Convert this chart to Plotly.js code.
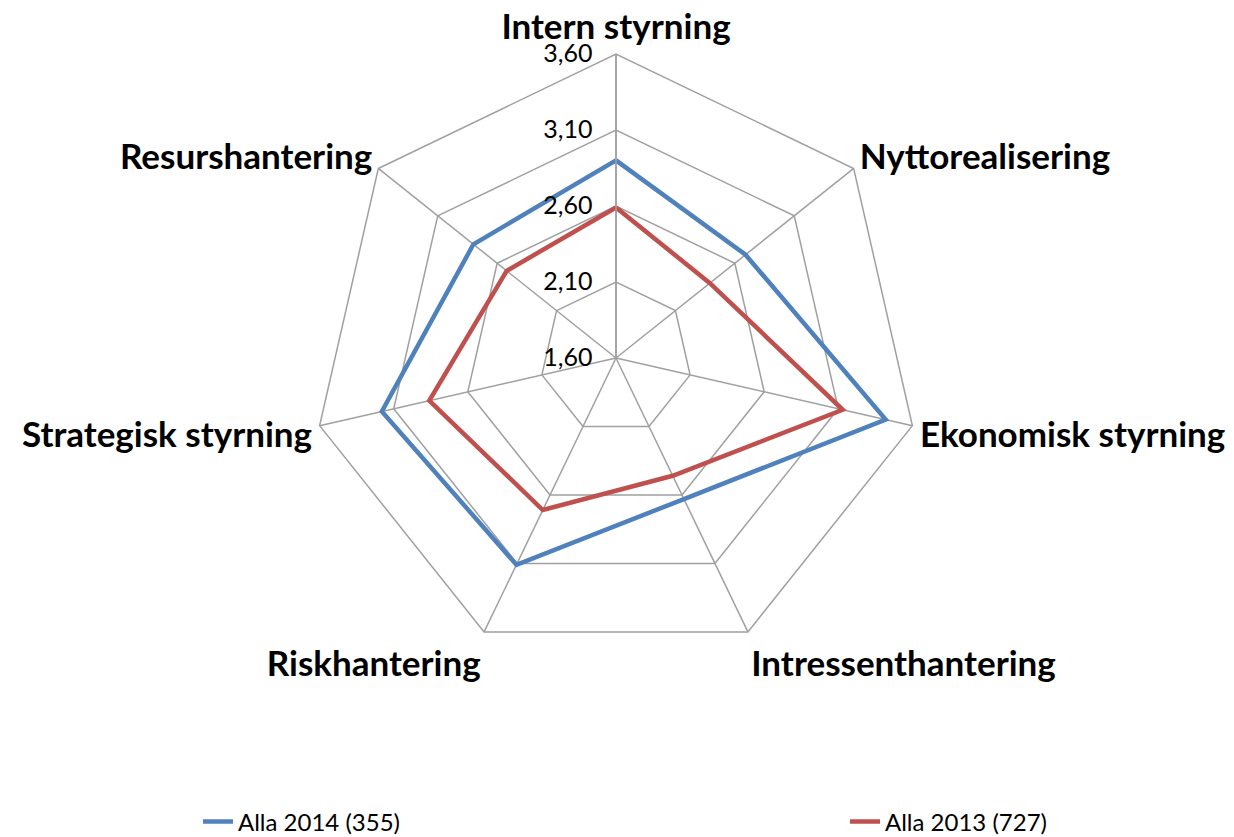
<!DOCTYPE html>
<html>
<head>
<meta charset="utf-8">
<script src="https://cdn.plot.ly/plotly-3.0.1.min.js"></script>
<style>html,body{margin:0;padding:0;background:#fff}#chart{width:1234px;height:837px}</style>
</head>
<body>
<div id="chart"></div>
<script>
const categories = ["Intern styrning","Nyttorealisering","Ekonomisk styrning","Intressenthantering","Riskhantering","Strategisk styrning","Resurshantering"];
const alla2014 = [2.90, 2.69, 3.42, 2.63, 3.11, 3.18, 2.80];
const alla2013 = [2.59, 2.39, 3.13, 2.46, 2.71, 2.86, 2.52];
const seriesNames = ["Alla 2014 (355)", "Alla 2013 (727)"];
const radialTicks = [1.6, 2.1, 2.6, 3.1, 3.6];

const close = a => a.concat([a[0]]);
const cats = close(categories);

const traces = [
  {type:'scatterpolar', mode:'lines', name:seriesNames[0], r:close(alla2014), theta:cats,
   line:{color:'#4F81BD', width:4.5}, hoverinfo:'skip', legend:'legend'},
  {type:'scatterpolar', mode:'lines', name:seriesNames[1], r:close(alla2013), theta:cats,
   line:{color:'#C0504D', width:4.5}, hoverinfo:'skip', legend:'legend2'}
];

const legFont = {size:24, family:'Lato, "Open Sans", sans-serif', color:'#000'};
const layout = {
  width:1234, height:837,
  margin:{l:0,r:0,t:0,b:0, autoexpand:false},
  paper_bgcolor:'#fff',
  separators:', ',
  font:{family:'Lato, "Open Sans", sans-serif', color:'#000'},
  showlegend:true,
  legend:{orientation:'h', x:198/1234, xanchor:'left', y:1-822/837, yanchor:'middle', font:legFont, bgcolor:'rgba(0,0,0,0)'},
  legend2:{orientation:'h', x:845/1234, xanchor:'left', y:1-822/837, yanchor:'middle', font:legFont, bgcolor:'rgba(0,0,0,0)'},
  polar:{
    domain:{x:[312/1234, 920/1234], y:[1-662/837, 1-54/837]},
    bgcolor:'#fff',
    gridshape:'linear',
    radialaxis:{range:[1.6,3.6], tickvals:radialTicks, tickformat:'.2f', angle:90,
      side:'counterclockwise', tickangle:90, ticks:'outside', ticklen:14, tickcolor:'rgba(0,0,0,0)',
      showline:true, linecolor:'#a0a0a0', linewidth:1.5,
      gridcolor:'#a0a0a0', gridwidth:1.5, tickfont:{size:25, color:'#000'}},
    angularaxis:{rotation:90, direction:'clockwise', type:'category', categoryarray:categories,
      showline:true, linecolor:'#a0a0a0', linewidth:1.5, gridcolor:'#a0a0a0', gridwidth:1.5,
      ticks:'', tickfont:{size:35, color:'#000', weight:'bold'}}
  }
};

Plotly.newPlot('chart', traces, layout, {staticPlot:true, displayModeBar:false});
</script>
</body>
</html>
